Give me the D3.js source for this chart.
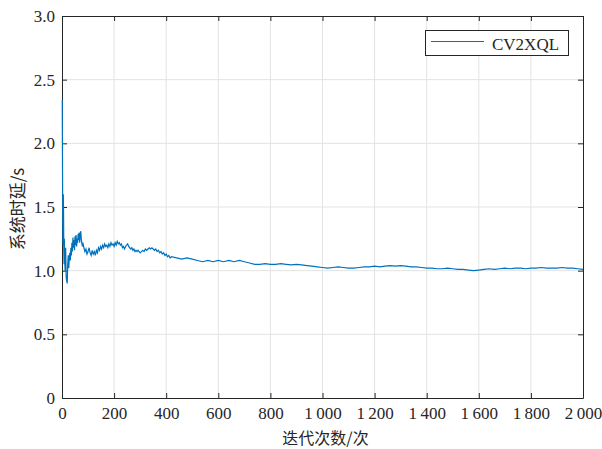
<!DOCTYPE html>
<html><head><meta charset="utf-8">
<script src="https://cdn.jsdelivr.net/npm/d3@7"></script>
<style>body{margin:0;background:#fff}svg{display:block}</style>
</head><body>
<svg id="c" width="602" height="449"></svg>
<script>
const seriesName = "CV2XQL";
const xTicks = [0,200,400,600,800,1000,1200,1400,1600,1800,2000];
const yTicks = [0,0.5,1.0,1.5,2.0,2.5,3.0];
const iterations = [1,2,3,4,5,6,7,8,9,10,12,14,16,18,20,22,24,26,28,30,32,34,36,38,40,42,44,46,48,50,52,54,56,58,60,62,64,66,68,70,72,74,76,78,80,84,88,92,96,100,
104,108,112,116,120,124,128,132,136,140,144,148,152,156,160,164,168,172,176,180,184,188,192,196,200,204,208,212,216,220,224,228,232,236,240,244,248,252,256,260,264,268,272,276,280,284,288,292,296,300,305,310,315,320,325,330,335,340,345,350,355,360,365,370,375,380,385,390,395,400,405,410,415,420,
440,460,480,500,520,540,560,580,600,620,640,660,680,700,720,740,760,780,800,820,840,860,880,900,920,940,960,980,1000,1020,1040,1060,1080,1100,1120,1140,1160,1180,1200,1220,1240,1260,1280,1300,1320,1340,1360,1380,1400,1420,1440,1460,1480,1500,1520,1540,1560,1580,1600,1620,1640,1660,1680,1700,1720,1740,1760,1780,1800,1820,1840,1860,1880,1900,1920,1940,1960,1980,2000];
const delay = [2.34,1.80,1.30,1.20,1.60,1.45,1.15,1.05,1.25,1.10,1.00,1.18,0.95,0.92,0.90,1.05,1.12,1.02,1.10,1.14,1.08,1.18,1.12,1.22,1.15,1.26,1.18,1.24,1.16,1.27,1.20,1.28,1.19,1.25,1.22,1.29,1.24,1.30,1.22,1.28,1.31,1.25,1.22,1.19,1.22,1.18,1.15,1.17,1.13,1.15,
1.18,1.14,1.12,1.16,1.13,1.15,1.12,1.16,1.14,1.18,1.16,1.19,1.17,1.20,1.18,1.21,1.19,1.20,1.18,1.21,1.19,1.22,1.20,1.21,1.19,1.22,1.20,1.23,1.21,1.22,1.20,1.21,1.18,1.19,1.17,1.19,1.20,1.21,1.19,1.18,1.17,1.18,1.16,1.17,1.15,1.16,1.15,1.16,1.15,1.14,1.15,1.16,1.15,1.17,1.16,1.17,1.18,1.17,1.18,1.17,1.16,1.17,1.15,1.16,1.14,1.15,1.13,1.14,1.12,1.13,1.11,1.12,1.10,1.11,
1.10,1.09,1.10,1.09,1.08,1.07,1.08,1.07,1.08,1.07,1.08,1.07,1.08,1.07,1.06,1.05,1.05,1.055,1.05,1.05,1.055,1.05,1.045,1.05,1.045,1.04,1.035,1.03,1.025,1.02,1.025,1.03,1.025,1.02,1.02,1.025,1.03,1.03,1.035,1.03,1.035,1.04,1.035,1.04,1.035,1.03,1.03,1.025,1.02,1.02,1.015,1.015,1.02,1.015,1.01,1.01,1.005,1.0,1.005,1.01,1.015,1.01,1.015,1.02,1.015,1.02,1.02,1.015,1.02,1.02,1.025,1.02,1.02,1.02,1.025,1.02,1.02,1.015,1.01];

const svg = d3.select("#c");
const L=62,R=583,T=16,B=398;
const x = d3.scaleLinear().domain([0,2000]).range([L,R]);
const y = d3.scaleLinear().domain([0,3]).range([B,T]);
const serif = "'Liberation Serif','Times New Roman',serif";
const fmtX = d => d>=1000 ? Math.floor(d/1000)+"\u2009"+String(d%1000).padStart(3,"0") : String(d);
const fmtY = d => d===0 ? "0" : d3.format(".1f")(d);

// grid
svg.append("g").selectAll("line").data(xTicks.slice(1,-1)).join("line")
  .attr("x1",d=>x(d)).attr("x2",d=>x(d)).attr("y1",T).attr("y2",B)
  .attr("stroke","#e3e3e3").attr("stroke-width",1);
svg.append("g").selectAll("line").data(yTicks.slice(1,-1)).join("line")
  .attr("y1",d=>y(d)).attr("y2",d=>y(d)).attr("x1",L).attr("x2",R)
  .attr("stroke","#e3e3e3").attr("stroke-width",1);

// axes
const xa = svg.append("g").attr("transform",`translate(0,${B})`)
  .call(d3.axisBottom(x).tickValues(xTicks).tickFormat(fmtX).tickSizeInner(-5).tickSizeOuter(0).tickPadding(9));
const xa2 = svg.append("g").attr("transform",`translate(0,${T})`)
  .call(d3.axisTop(x).tickValues(xTicks).tickFormat("").tickSizeInner(-5).tickSizeOuter(0));
const ya = svg.append("g").attr("transform",`translate(${L},0)`)
  .call(d3.axisLeft(y).tickValues(yTicks).tickFormat(fmtY).tickSizeInner(-5).tickSizeOuter(0).tickPadding(7));
const ya2 = svg.append("g").attr("transform",`translate(${R},0)`)
  .call(d3.axisRight(y).tickValues(yTicks).tickFormat("").tickSizeInner(-5).tickSizeOuter(0));
[xa,xa2,ya,ya2].forEach(g=>{
  g.attr("font-family",serif).attr("font-size",17);
  g.selectAll("path,line").attr("stroke","#262626");
  g.selectAll("text").attr("fill","#262626").style("font-family",serif).style("font-size","17px");
});

// line (drawn over the axes, as in the reference)
const pts = iterations.map((it,i)=>[it,delay[i]]);
svg.append("path").datum(pts)
  .attr("fill","none").attr("stroke","#0072BD").attr("stroke-width",1.2)
  .attr("d", d3.line().x(d=>x(d[0])).y(d=>y(d[1])));

// axis titles
svg.append("text").attr("x",(L+R)/2+3).attr("y",444).attr("text-anchor","middle")
  .style("font-family","'Noto Sans CJK SC',sans-serif").style("font-size","16px").attr("fill","#262626")
  .text("迭代次数/次");
svg.append("text").attr("transform",`translate(24,209) rotate(-90)`).attr("text-anchor","middle")
  .style("font-family","'Noto Sans CJK SC',sans-serif").style("font-size","17px").attr("fill","#262626")
  .text("系统时延/s");

// legend
const lg = svg.append("g");
lg.append("rect").attr("x",425.5).attr("y",30.5).attr("width",143).attr("height",25)
  .attr("fill","#fff").attr("stroke","#262626").attr("stroke-width",1);
lg.append("line").attr("x1",431).attr("x2",484).attr("y1",41.5).attr("y2",41.5)
  .attr("stroke","#0072BD").attr("stroke-width",1.2);
lg.append("text").attr("x",492).attr("y",50).style("font-family",serif).style("font-size","17px")
  .attr("fill","#262626").text(seriesName);
</script>
</body></html>
